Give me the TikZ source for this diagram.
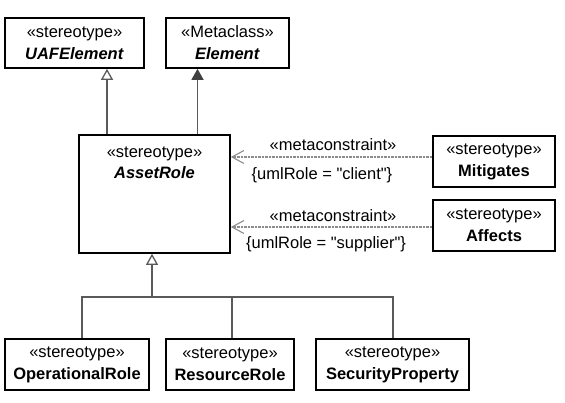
\documentclass[tikz,border=0pt]{standalone}
\usepackage{fontspec}
\setmainfont{Liberation Sans}
\usetikzlibrary{arrows.meta}

\definecolor{linegray}{RGB}{90,90,90}
\definecolor{dashgray}{RGB}{140,140,140}
\definecolor{headgray}{RGB}{64,64,64}

\begin{document}
\begin{tikzpicture}[x=1pt, y=-1pt,
    umlbox/.style={draw, line width=1.6pt, align=center, inner sep=0pt,
      minimum height=51pt, font=\fontsize{16.5}{22}\selectfont},
    lbl/.style={font=\fontsize{16.5}{20}\selectfont, inner sep=0pt},
    gen/.style={draw=linegray, line width=1.3pt,
      -{Triangle[open, length=11pt, width=12pt, fill=white]}},
    genfill/.style={draw=linegray, line width=1.3pt,
      -{Triangle[length=11pt, width=12pt, color=headgray, fill=headgray]}},
    dep/.style={draw=dashgray, line width=1.1pt, dash pattern=on 2.5pt off 1pt,
      -{Straight Barb[length=12pt, width=13pt, line width=1.1pt]}},
    tree/.style={draw=linegray, line width=1.3pt}]

\useasboundingbox (0,0) rectangle (565,402);

% Top classes
\node[umlbox, minimum width=139pt, minimum height=50pt] (uaf) at (74.5,43)
  {«stereotype»\\\textbf{\textit{UAFElement}}};
\node[umlbox, minimum width=123pt, minimum height=50pt] (elem) at (227.5,43)
  {«Metaclass»\\\textbf{\textit{Element}}};

% AssetRole
\node[umlbox, minimum width=151pt, minimum height=118pt] (asset) at (154.5,194) {};
\node[lbl, align=center, font=\fontsize{16.5}{21}\selectfont] (assetname) at (154.5,163)
  {«stereotype»\\\textbf{\textit{AssetRole}}};

% Right classes
\node[umlbox, minimum width=122pt] (mitig) at (494,161.5)
  {«stereotype»\\\textbf{Mitigates}};
\node[umlbox, minimum width=122pt] (affects) at (494,225.5)
  {«stereotype»\\\textbf{Affects}};

% Bottom classes
\node[umlbox, minimum width=144pt] (oprole) at (77,364.5)
  {«stereotype»\\\textbf{OperationalRole}};
\node[umlbox, minimum width=128pt] (resrole) at (230,364.5)
  {«stereotype»\\\textbf{ResourceRole}};
\node[umlbox, minimum width=153pt] (secprop) at (392.5,364.5)
  {«stereotype»\\\textbf{SecurityProperty}};

% Generalizations to the top
\draw[gen] ([xshift=-47.5pt]asset.north) -- ([xshift=-47.5pt]asset.north |- uaf.south);
\draw[genfill] ([xshift=43pt]asset.north) -- ([xshift=43pt]asset.north |- elem.south);

% Metaconstraints
\draw[dep] ([yshift=4.5pt]mitig.west) -- ([yshift=4.5pt]mitig.west -| asset.east);
\draw[dep] ([yshift=-1.5pt]affects.west) -- ([yshift=-1.5pt]affects.west -| asset.east);
\node[lbl] (mc1) at (333,145) {«metaconstraint»};
\node[lbl] (client) at (322,175) {\{umlRole = \textquotedbl client\textquotedbl\}};
\node[lbl] (mc2) at (333,216) {«metaconstraint»};
\node[lbl] (supplier) at (326,244) {\{umlRole = \textquotedbl supplier\textquotedbl\}};

% Generalization tree
\coordinate (fork) at (152,297);
\draw[gen] (fork) -- (fork |- asset.south);
\draw[tree] ([xshift=5pt]oprole.north) |- (fork);
\draw[tree] ([xshift=2pt]resrole.north) |- (fork);
\draw[tree] ([xshift=0.5pt]secprop.north) |- (fork);

\end{tikzpicture}
\end{document}
